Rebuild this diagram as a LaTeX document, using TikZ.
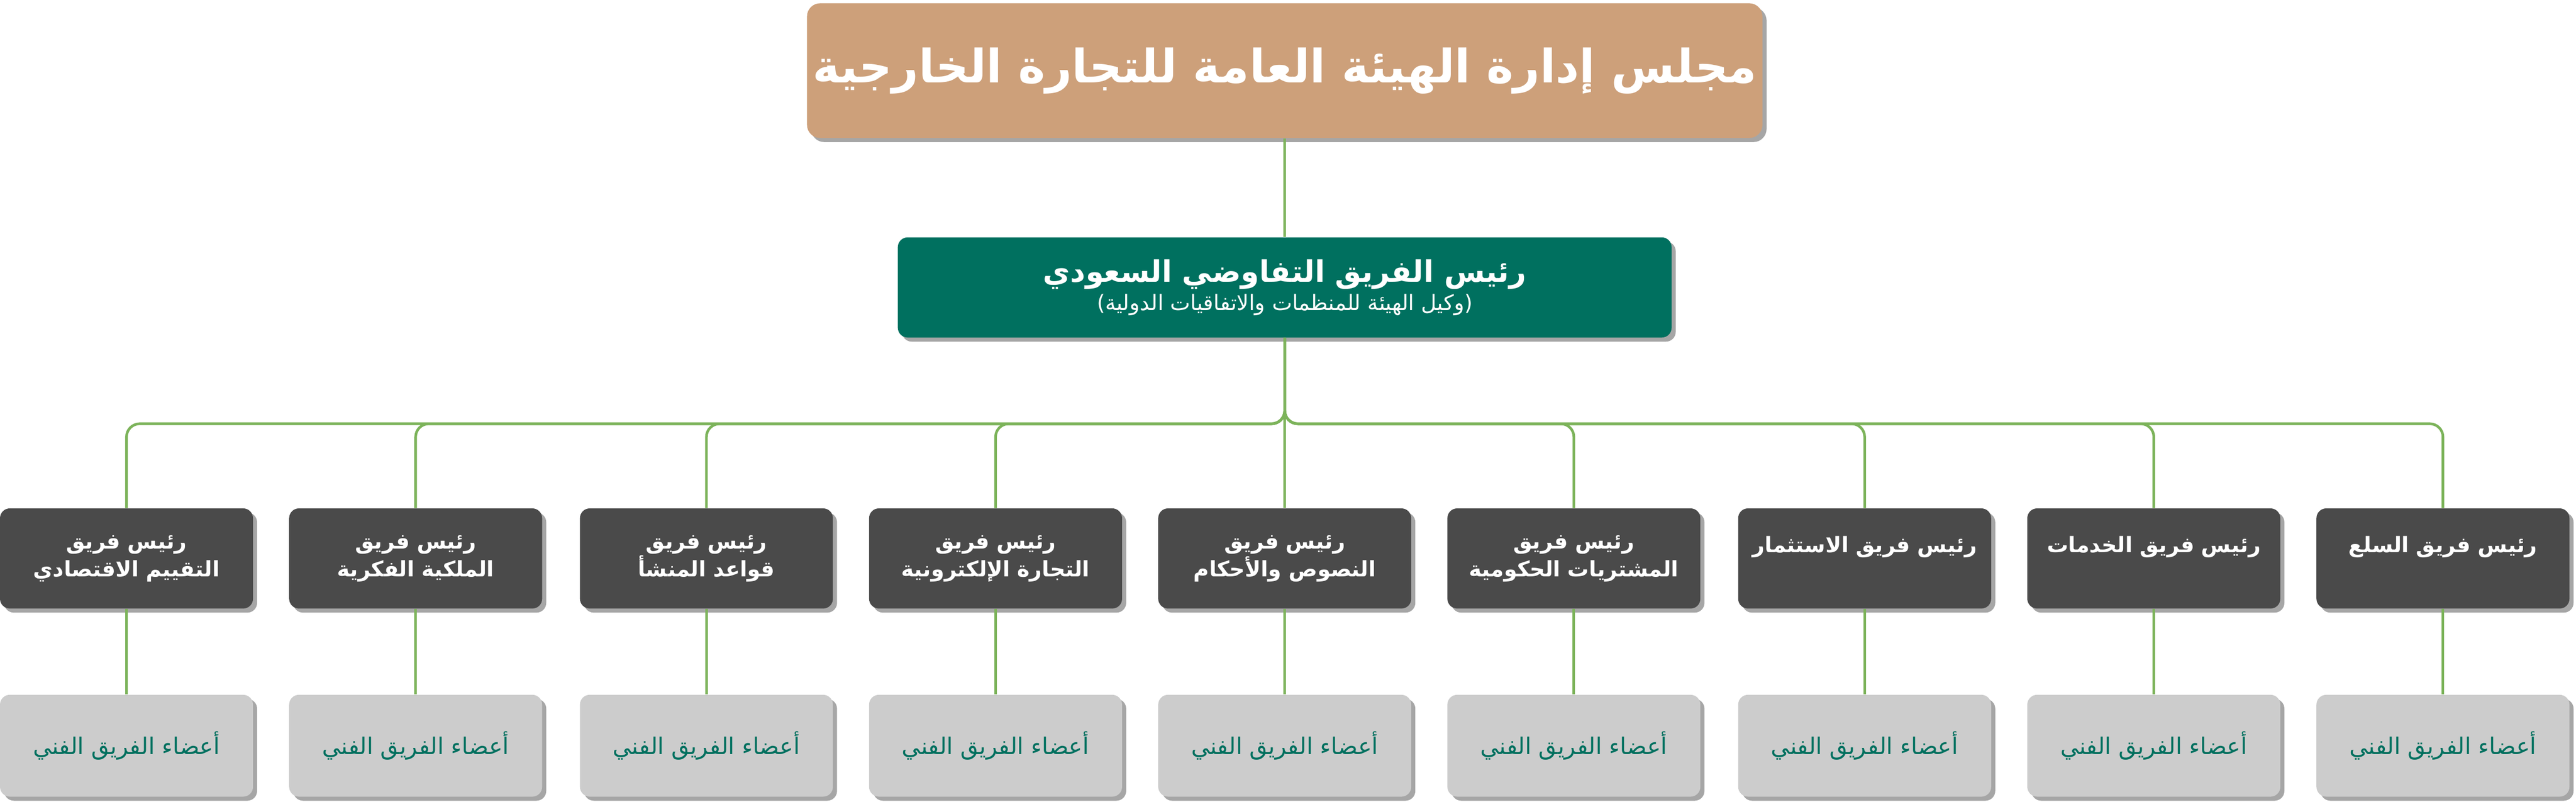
\documentclass[tikz,border=0pt]{standalone}
\usepackage{fontspec}
\TeXXeTstate=1
\newfontfamily\arabicfont[Script=Arabic]{DejaVu Sans}
\usetikzlibrary{shadows}
\definecolor{tan}{HTML}{CDA07A}
\definecolor{teal}{HTML}{00705F}
\definecolor{dgrey}{HTML}{4A4A4A}
\definecolor{lgrey}{HTML}{CCCCCC}
\definecolor{lgreen}{HTML}{7CB35A}
\newcommand{\ar}[1]{\beginR #1\endR}
\tikzset{
 sh/.style={drop shadow={shadow xshift=2.5pt,shadow yshift=-2.5pt,fill=black!35,opacity=1}},
 topbox/.style={sh,fill=tan,rounded corners=8pt,minimum width=577pt,minimum height=82pt,text=white,font=\arabicfont\bfseries\fontsize{28}{34}\selectfont},
 midbox/.style={sh,fill=teal,rounded corners=6pt,minimum width=471pt,minimum height=61pt,text=white,align=center},
 headbox/.style={sh,fill=dgrey,rounded corners=6pt,minimum width=154pt,minimum height=61pt,text width=150pt,text=white,align=center,inner sep=1pt,font=\arabicfont\bfseries\fontsize{13}{17}\selectfont},
 membox/.style={sh,fill=lgrey,rounded corners=6pt,minimum width=154pt,minimum height=62pt,text=teal,align=center,font=\arabicfont\fontsize{14}{17}\selectfont},
 conn/.style={draw=lgreen,line width=1.6pt,rounded corners=8pt}
}
\begin{document}
\begin{tikzpicture}[x=1pt,y=-1pt]
\useasboundingbox (0,0) rectangle (1568,488);
\node[topbox] (top) at (782,43) {\ar{مجلس إدارة الهيئة العامة للتجارة الخارجية}};
\node[midbox] (mid) at (782,175) {{\arabicfont\bfseries\fontsize{18}{22}\selectfont\ar{رئيس الفريق التفاوضي السعودي}}\\[2pt]{\arabicfont\fontsize{13}{16}\selectfont\ar{(وكيل الهيئة للمنظمات والاتفاقيات الدولية)}}};
\coordinate (bus) at (782,258);
\draw[conn] (top.south) -- (mid.north);
\foreach \n/\x/\a/\b in {
 h1/1487/رئيس فريق السلع/,
 h2/1311/رئيس فريق الخدمات/,
 h3/1135/رئيس فريق الاستثمار/,
 h4/958/رئيس فريق/المشتريات الحكومية,
 h5/782/رئيس فريق/النصوص والأحكام,
 h6/606/رئيس فريق/التجارة الإلكترونية,
 h7/430/رئيس فريق/قواعد المنشأ,
 h8/253/رئيس فريق/الملكية الفكرية,
 h9/77/رئيس فريق/التقييم الاقتصادي}{
 \node[headbox] (\n) at (\x,340) {\ar{\a}\ifx\relax\b\relax\else\\\ar{\b}\fi};
 \node[membox] (m\n) at (\x,454) {\ar{أعضاء الفريق الفني}};
 \draw[conn] (mid.south) -- (bus) -| (\n.north);
 \draw[conn] (\n.south) -- (m\n.north);
}
\end{tikzpicture}
\end{document}
